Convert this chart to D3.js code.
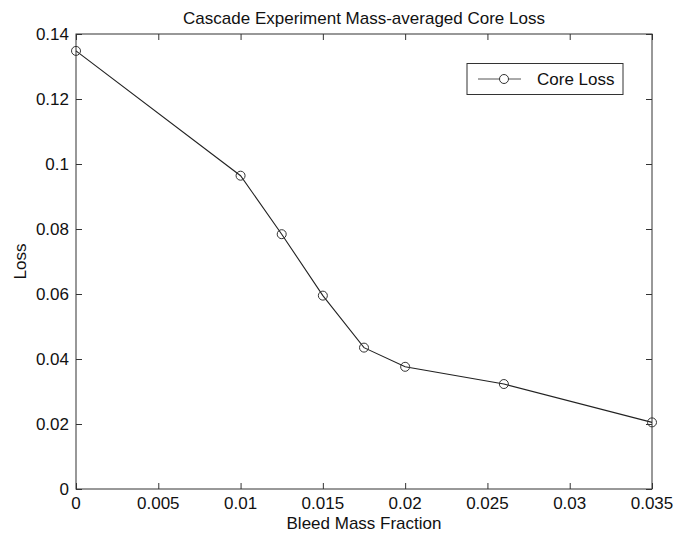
<!DOCTYPE html>
<html><head><meta charset="utf-8">
<script src="https://cdn.jsdelivr.net/npm/d3@7"></script>
<style>body{margin:0;background:#fff}svg{display:block}text{font-family:"Liberation Sans",Arial,sans-serif;fill:#111}</style>
</head><body><svg id="c" width="677" height="539"></svg>
<script>
const bleed = [0, 0.01, 0.0125, 0.015, 0.0175, 0.02, 0.026, 0.035];
const coreLoss = [0.1348, 0.0964, 0.0784, 0.0595, 0.0435, 0.0376, 0.0323, 0.0205];
const xTicks = [0, 0.005, 0.01, 0.015, 0.02, 0.025, 0.03, 0.035];
const xTickLabels = ["0","0.005","0.01","0.015","0.02","0.025","0.03","0.035"];
const yTicks = [0, 0.02, 0.04, 0.06, 0.08, 0.1, 0.12, 0.14];
const yTickLabels = ["0","0.02","0.04","0.06","0.08","0.1","0.12","0.14"];
const title = "Cascade Experiment Mass-averaged Core Loss";
const xTitle = "Bleed Mass Fraction";
const yTitle = "Loss";
const seriesName = "Core Loss";

const m = {l:76, r:652, t:34, b:489};
const svg = d3.select("#c");
const x = d3.scaleLinear().domain([0,0.035]).range([m.l,m.r]);
const y = d3.scaleLinear().domain([0,0.14]).range([m.b,m.t]);
const fs = 17;
const sx = 1.0;

// frame
svg.append("rect").attr("x",m.l).attr("y",m.t).attr("width",m.r-m.l).attr("height",m.b-m.t)
  .attr("fill","none").attr("stroke","#333").attr("stroke-width",1);

const tl = 6;
const ax = d3.axisBottom(x).tickValues(xTicks).tickFormat("").tickSizeInner(-tl).tickSizeOuter(0);
const gx = svg.append("g").attr("transform",`translate(0,${m.b})`).call(ax);
const axTop = d3.axisTop(x).tickValues(xTicks).tickFormat("").tickSizeInner(-tl).tickSizeOuter(0);
const gxt = svg.append("g").attr("transform",`translate(0,${m.t})`).call(axTop);
const ay = d3.axisLeft(y).tickValues(yTicks).tickFormat("").tickSizeInner(-tl).tickSizeOuter(0);
const gy = svg.append("g").attr("transform",`translate(${m.l},0)`).call(ay);
const ayr = d3.axisRight(y).tickValues(yTicks).tickFormat("").tickSizeInner(-tl).tickSizeOuter(0);
const gyr = svg.append("g").attr("transform",`translate(${m.r},0)`).call(ayr);
[gx,gxt,gy,gyr].forEach(g=>{
  g.select(".domain").remove();
  g.selectAll(".tick line").attr("stroke","#333");
});

// tick labels
svg.append("g").selectAll("text").data(xTicks).enter().append("text")
  .attr("transform",d=>`translate(${x(d)},509) scale(${sx},1)`).attr("text-anchor","middle")
  .attr("font-size",fs).text((d,i)=>xTickLabels[i]);
svg.append("g").selectAll("text").data(yTicks).enter().append("text")
  .attr("transform",d=>`translate(${m.l-7},${y(d)+6}) scale(${sx},1)`).attr("text-anchor","end")
  .attr("font-size",fs).text((d,i)=>yTickLabels[i]);

// line
const line = d3.line().x((d,i)=>x(bleed[i])).y(d=>y(d));
svg.append("path").datum(coreLoss).attr("d",line).attr("fill","none").attr("stroke","#222").attr("stroke-width",1.1);
svg.selectAll("circle.pt").data(coreLoss).enter().append("circle").attr("class","pt")
  .attr("cx",(d,i)=>x(bleed[i])).attr("cy",d=>y(d)).attr("r",4.5)
  .attr("fill","none").attr("stroke","#333").attr("stroke-width",1);

// titles
svg.append("text").attr("transform",`translate(${(m.l+m.r)/2},24) scale(${sx},1)`).attr("text-anchor","middle").attr("font-size",fs).text(title);
svg.append("text").attr("transform",`translate(${(m.l+m.r)/2},529) scale(${sx},1)`).attr("text-anchor","middle").attr("font-size",fs).text(xTitle);
svg.append("text").attr("transform",`translate(26,${(m.t+m.b)/2}) rotate(-90)`).attr("text-anchor","middle").attr("font-size",fs).text(yTitle);

// legend
const lg = svg.append("g");
lg.append("rect").attr("x",467).attr("y",63.5).attr("width",156).attr("height",31).attr("fill","#fff").attr("stroke","#333");
lg.append("line").attr("x1",478).attr("x2",521).attr("y1",79).attr("y2",79).attr("stroke","#555").attr("stroke-width",1);
lg.append("circle").attr("cx",504).attr("cy",79).attr("r",4.5).attr("fill","#fff").attr("stroke","#333");
lg.append("text").attr("transform",`translate(537,85) scale(${sx},1)`).attr("font-size",fs).text(seriesName);
</script></body></html>
